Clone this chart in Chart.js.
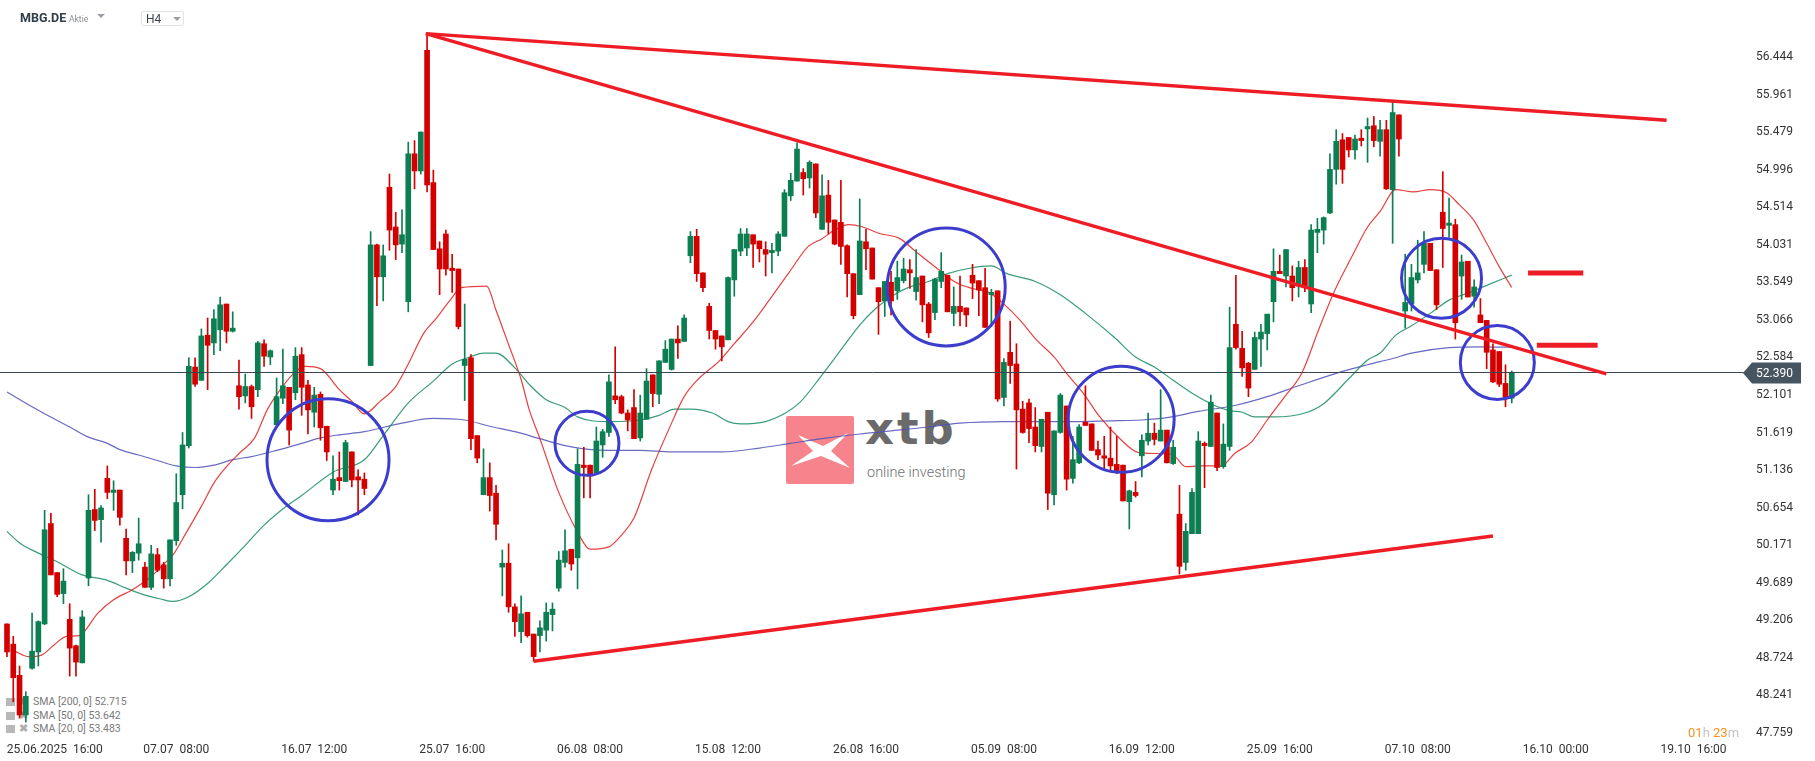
<!DOCTYPE html>
<html>
<head>
<meta charset="utf-8">
<script src="https://cdn.jsdelivr.net/npm/chart.js@4.4.1/dist/chart.umd.min.js"></script>
<style>
  html, body { margin: 0; padding: 0; background: #fff; overflow: hidden; }
  #wrap { position: relative; width: 1815px; height: 761px; font-family: Roboto, sans-serif; }
  #c { position: absolute; left: 0; top: 0; }
  .head { position: absolute; left: 20px; top: 8px; height: 20px; }
  .sym { position: absolute; left: 0; top: 2px; font: bold 12.5px Roboto, sans-serif; color: #2f3d48; }
  .kind { position: absolute; left: 49px; top: 6px; font: 8.5px Roboto, sans-serif; color: #8a8f94; }
  .tri { position: absolute; width: 0; height: 0; border-left: 4px solid transparent; border-right: 4px solid transparent; border-top: 4px solid #9aa0a6; }
  .tf { position: absolute; left: 121px; top: 3px; width: 43px; height: 15px; border: 1px solid #dfe3e6; border-radius: 2px; box-sizing: border-box; }
  .tf span { position: absolute; left: 4px; top: 0px; font: 12px Roboto, sans-serif; color: #3a444c; }
  .legend { position: absolute; left: 6px; top: 695px; font: 10.5px Roboto, sans-serif; color: #7a7a7a; }
  .legend div { height: 13.5px; line-height: 13.5px; white-space: nowrap; }
  .legend .ic { display: inline-block; width: 9px; height: 8px; background: #b8b8b8; margin-right: 4px; vertical-align: -1px; }
  .legend .x { display: inline-block; width: 10px; color: #b0b0b0; font-weight: bold; margin-right: 4px; }
  .timer { position: absolute; left: 1688px; top: 725px; font: 13px Roboto, sans-serif; }
  .timer .o { color: #f7941d; }
  .timer .g { color: #c4c4c4; }
  .wm { position: absolute; left: 786px; top: 416px; }
  .wm .logo { position: absolute; left: 0; top: 0; width: 68px; height: 68px; background: #f7848c; border-radius: 2px; }
  .wm .xtb { position: absolute; left: 79px; top: -14px; font: bold 45px "DejaVu Sans", sans-serif; color: #6a6a6a; letter-spacing: 3px; }
  .wm .sub { position: absolute; left: 81px; top: 48px; font: 300 14.5px Roboto, sans-serif; color: #6f6f6f; white-space: nowrap; }
</style>
</head>
<body>
<div id="wrap">
  <div class="wm">
    <div class="logo">
      <svg width="68" height="68" viewBox="0 0 68 68">
        <path d="M12 19 L37 30 L62 17 L45 35 L64 52 L35 40 L5 50 L27 35 Z" fill="#fff"/>
      </svg>
    </div>
    <div class="xtb">xtb</div>
    <div class="sub">online investing</div>
  </div>
  <div class="legend">
    <div><span class="ic"></span><span class="x">&#10006;</span>SMA [200, 0] 52.715</div>
    <div><span class="ic"></span><span class="x">&#10006;</span>SMA [50, 0] 53.642</div>
    <div><span class="ic"></span><span class="x">&#10006;</span>SMA [20, 0] 53.483</div>
  </div>
  <canvas id="c" width="1815" height="761"></canvas>
  <div class="head">
    <div class="sym">MBG.DE</div>
    <div class="kind">Aktie</div>
    <div class="tri" style="left:77px;top:6px"></div>
    <div class="tf"><span>H4</span><div class="tri" style="left:31px;top:5px"></div></div>
  </div>
  <div class="timer"><span class="o">01</span><span class="g">h </span><span class="o">23</span><span class="g">m</span></div>
</div>
<script>
// MBG.DE, H4 candles (one per 4h bar, index 0 = 24.06 08:00)
const opens = [49.16,48.90,48.50,47.99,48.59,48.80,49.16,50.45,49.82,49.55,
  49.22,48.88,48.66,49.75,50.63,50.50,51.03,50.85,50.88,50.26,
  49.97,50.07,49.89,49.63,50.05,49.92,49.74,50.23,50.82,51.45,
  52.46,52.29,52.87,52.77,52.94,53.27,52.92,52.22,52.09,52.21,
  52.17,52.76,52.59,51.72,52.06,52.20,52.13,52.62,52.23,51.88,
  52.11,51.70,50.88,51.04,50.99,51.37,51.05,51.02,52.48,54.03,
  53.62,54.77,54.26,54.04,53.30,55.20,54.98,56.53,54.83,53.98,
  54.17,53.73,53.72,52.48,52.58,51.58,50.82,51.04,50.84,49.89,
  49.94,49.38,49.06,49.31,49.03,49.01,49.08,49.28,49.62,49.95,
  50.12,50.01,51.20,51.20,51.10,51.46,51.62,52.09,52.08,51.87,
  51.94,51.55,51.79,52.36,52.11,52.52,52.43,52.82,52.79,53.89,
  54.14,53.67,53.24,52.93,52.86,52.81,53.58,53.95,53.99,54.16,
  54.08,53.97,53.93,53.95,54.14,54.66,54.85,54.96,54.89,55.07,
  54.23,54.67,54.35,54.32,54.02,53.66,53.39,54.07,53.99,53.48,
  53.31,53.55,53.44,53.57,53.71,53.43,53.63,53.27,53.16,53.56,
  53.64,53.15,53.24,53.22,53.64,53.57,53.48,53.39,53.44,52.07,
  52.65,52.50,51.92,52.00,51.69,51.44,51.88,50.82,51.62,51.96,
  51.03,51.23,51.75,51.73,51.40,51.32,51.29,51.21,51.20,50.73,
  50.85,51.32,51.51,51.61,51.51,51.65,51.22,50.57,49.95,50.32,
  50.32,51.48,51.44,51.87,51.18,51.44,53.01,52.70,52.51,52.43,
  52.82,52.89,53.30,53.69,53.63,53.63,53.50,53.74,53.27,54.19,
  54.22,54.44,55.00,55.38,55.41,55.25,55.40,55.52,55.56,55.36,
  55.51,54.74,55.70,53.18,53.27,53.58,53.78,54.05,53.71,54.45,
  54.28,54.29,53.63,53.82,53.37,53.13,53.06,52.68,52.66,52.25,
  52.06];
const highs = [49.16,49.00,48.62,48.29,49.30,49.20,50.62,50.58,49.82,49.87,
  49.42,48.89,49.33,50.82,50.89,50.68,51.19,51.00,50.88,50.38,
  50.09,50.52,49.95,50.17,50.13,49.95,50.24,51.09,51.62,52.58,
  52.58,52.95,53.09,53.20,53.36,53.27,53.17,52.55,52.37,52.23,
  52.79,52.81,52.68,52.32,52.69,52.20,52.71,52.71,52.29,52.20,
  52.14,51.70,51.32,51.37,51.52,51.37,51.14,51.10,54.20,54.04,
  54.03,54.94,54.45,54.48,55.35,55.37,55.48,56.76,54.99,54.07,
  54.22,53.91,53.72,53.27,52.62,51.58,51.41,51.23,50.94,50.11,
  50.19,49.42,49.52,49.31,49.03,49.20,49.43,49.43,50.09,50.37,
  50.12,51.41,51.43,51.20,51.69,51.66,52.36,52.72,52.10,51.91,
  52.17,52.10,52.44,52.36,52.54,52.80,52.82,52.99,53.13,54.20,
  54.23,53.67,53.28,52.93,52.86,53.62,53.97,54.24,54.24,54.16,
  54.08,54.07,54.05,54.20,54.74,54.95,55.34,55.01,55.11,55.07,
  54.93,54.86,54.35,54.86,54.03,53.66,54.62,54.23,53.99,53.48,
  53.56,53.69,53.82,53.86,53.84,53.97,53.63,53.29,53.60,53.93,
  53.64,53.49,53.63,53.22,53.78,53.57,53.73,53.46,53.44,52.57,
  53.05,52.76,52.02,52.05,51.94,51.79,51.88,51.64,52.12,51.96,
  51.57,51.72,52.22,51.73,51.51,51.57,51.69,51.57,51.20,50.88,
  50.99,51.59,51.87,51.74,52.17,51.65,51.52,50.94,50.45,50.90,
  51.63,51.50,52.10,51.87,51.73,53.23,53.64,52.92,52.52,52.91,
  53.01,53.14,53.98,53.90,53.97,53.76,53.82,53.84,54.29,54.37,
  54.39,55.20,55.51,55.46,55.41,55.44,55.51,55.66,55.68,55.63,
  55.63,55.88,55.70,53.91,53.78,54.09,54.20,54.05,53.71,54.97,
  54.63,54.36,53.90,53.82,53.58,53.34,53.06,52.76,52.66,52.49,
  52.41];
const lows = [48.74,48.16,47.95,47.90,48.58,48.62,49.15,49.79,49.51,49.42,
  48.49,48.49,48.66,49.65,50.36,50.21,50.77,50.62,50.43,49.79,
  49.82,49.98,49.63,49.60,49.83,49.62,49.65,50.17,50.64,51.42,
  52.21,52.29,52.17,52.62,52.67,52.77,52.91,51.92,52.00,51.80,
  52.08,52.47,52.49,51.72,51.99,51.46,52.04,51.84,51.60,51.69,
  51.52,51.26,50.82,50.88,50.99,50.92,50.56,50.82,52.48,53.25,
  53.31,53.96,53.84,53.93,53.17,54.75,54.94,54.71,53.97,53.39,
  53.64,53.42,52.95,52.03,51.40,51.23,50.82,50.61,50.24,49.52,
  49.31,49.00,48.92,48.99,48.68,48.80,48.94,49.07,49.58,49.89,
  49.85,49.61,50.78,50.78,51.10,51.30,51.57,51.99,51.86,51.64,
  51.54,51.51,51.79,51.95,51.99,52.52,52.42,52.57,52.79,53.80,
  53.56,53.43,52.82,52.69,52.54,52.81,53.37,53.89,53.89,53.74,
  53.81,53.63,53.67,53.89,54.14,54.60,54.85,54.67,54.76,54.38,
  54.23,54.17,54.03,53.78,53.36,53.08,53.39,53.71,53.59,52.88,
  53.11,53.13,53.33,53.54,53.47,53.32,53.04,52.84,53.07,53.48,
  53.17,52.99,52.99,52.98,53.34,53.12,52.97,52.98,52.02,51.96,
  52.25,51.15,51.61,51.49,51.37,51.37,50.63,50.69,51.61,50.88,
  50.97,51.22,51.71,51.39,51.27,51.14,51.13,51.09,50.74,50.38,
  50.79,51.05,51.46,51.46,51.51,51.23,51.21,49.80,49.85,50.32,
  50.32,50.91,51.44,51.13,51.16,51.39,52.69,52.34,52.08,52.43,
  52.47,52.68,53.04,53.66,53.49,53.31,53.36,53.43,53.16,53.93,
  54.04,54.43,54.81,54.82,55.16,55.13,55.30,55.09,55.29,55.17,
  54.74,54.05,55.17,52.96,53.18,53.54,53.67,53.70,53.20,53.74,
  54.13,52.82,53.33,53.36,53.23,53.03,52.44,52.26,52.21,51.95,
  52.00];
const closes = [48.80,48.47,47.99,48.23,48.81,49.19,50.37,49.79,49.54,49.71,
  48.85,48.67,49.25,50.62,50.49,50.65,50.85,50.88,50.53,49.97,
  50.08,50.19,49.63,50.06,49.85,49.74,50.24,50.72,51.46,52.47,
  52.24,52.86,52.74,53.08,53.26,52.92,52.96,52.08,52.21,51.95,
  52.77,52.60,52.67,52.08,52.22,51.65,52.60,52.20,51.91,52.10,
  51.68,51.37,51.02,51.00,51.49,51.01,51.01,50.90,54.03,53.62,
  53.89,54.22,54.03,54.16,55.20,54.98,55.48,54.80,53.97,53.72,
  53.72,53.70,52.98,52.56,51.54,51.29,51.04,50.81,50.44,49.94,
  49.38,49.19,49.29,49.01,48.74,49.11,49.31,49.35,49.98,50.10,
  49.93,51.21,51.17,51.06,51.51,51.63,52.27,52.04,51.87,51.78,
  51.54,51.87,52.28,52.12,52.54,52.69,52.82,52.77,53.09,54.14,
  53.66,53.48,52.93,52.82,52.72,53.61,53.97,54.17,54.17,54.04,
  53.98,53.91,53.96,54.17,54.70,54.86,55.26,54.88,55.09,54.44,
  54.66,54.32,54.04,54.01,53.66,53.12,54.08,53.98,53.59,53.30,
  53.56,53.31,53.61,53.72,53.67,53.61,53.26,52.90,53.59,53.69,
  53.17,53.24,53.17,53.13,53.54,53.45,52.97,53.42,52.05,52.52,
  52.48,51.91,51.62,51.67,51.45,51.79,50.84,51.64,52.10,51.02,
  51.27,51.69,51.71,51.39,51.33,51.29,51.19,51.13,50.74,50.87,
  50.81,51.52,51.61,51.53,51.65,51.23,51.43,49.90,50.35,50.85,
  51.51,51.45,52.01,51.17,51.47,52.71,52.71,52.45,52.19,52.84,
  52.91,53.14,53.69,53.66,53.97,53.48,53.74,53.48,54.22,54.23,
  54.38,55.00,55.36,55.00,55.25,55.39,55.37,55.55,55.37,55.51,
  54.75,55.73,55.39,53.29,53.61,53.67,54.05,53.70,53.26,54.24,
  54.31,53.03,53.81,53.36,53.49,53.03,52.65,52.27,52.24,52.07,
  52.39];

// moving averages: [bar index, value]
const sma20 = [[1,48.82],[3.5,48.74],[5.5,48.76],[7.5,48.89],[9.5,49.00],[11.5,49.01],[14.5,49.30],[17,49.47],
  [20,49.60],[23,49.77],[25,49.93],[26.5,50.05],[28.5,50.32],[31,50.67],[33,50.97],[35,51.18],[37,51.35],
  [39.5,51.55],[41.5,51.91],[43.5,52.16],[45.5,52.36],[47.5,52.47],[50,52.44],[53,52.17],[55,52.02],[57,51.86],
  [59.5,52.02],[62,52.21],[64,52.50],[66.5,52.90],[68.5,53.09],[70.5,53.30],[72.5,53.48],[76.5,53.50],[78,53.19],
  [80,52.75],[82,52.30],[83.3,51.91],[85,51.54],[88,50.85],[91,50.34],[93,50.12],[96,50.15],[98,50.30],[100,50.52],
  [102.8,51.14],[105.5,51.65],[108,52.08],[110.3,52.31],[113.5,52.53],[116,52.76],[118.8,53.02],[121.4,53.30],
  [124.6,53.66],[127.8,54.01],[130,54.11],[132,54.22],[134.2,54.29],[136.5,54.26],[139,54.18],[142.4,54.11],
  [145,53.94],[148.3,53.73],[151.5,53.54],[154,53.47],[156.8,53.41],[159.4,53.24],[161.6,53.06],[164.2,52.81],
  [167,52.59],[169,52.38],[171.7,52.12],[174.3,51.82],[177.5,51.54],[180.5,51.36],[183,51.35],[185.8,51.34],
  [188,51.18],[190.5,51.19],[193.7,51.19],[195.8,51.35],[198.5,51.50],[201,51.78],[203.8,52.08],[206.5,52.38],
  [209.2,52.94],[211.8,53.45],[214.5,53.88],[217,54.26],[219,54.46],[221.5,54.74],[224.3,54.71],[227,54.74],
  [229.6,54.70],[231.7,54.54],[233.9,54.35],[236,54.05],[238,53.75],[240,53.483]];
const sma50 = [[0,50.35],[2,50.20],[5,50.07],[8,49.96],[12,49.79],[16,49.72],[19,49.62],[22,49.53],[24.5,49.48],
  [26.5,49.45],[29,49.51],[32,49.68],[35,49.92],[38,50.17],[41,50.43],[44.5,50.67],[47,50.81],[52,51.11],
  [57,51.27],[60,51.58],[64,52.00],[68,52.28],[71,52.50],[73.5,52.58],[76,52.64],[78,52.64],[81,52.45],
  [83.5,52.22],[86,52.04],[89,51.94],[91,51.82],[96,51.76],[101,51.78],[104,51.84],[106.5,51.92],[109,51.92],
  [112.5,51.87],[115,51.76],[117,51.73],[121,51.76],[123.5,51.84],[126.5,52.01],[130,52.36],[133,52.68],
  [136,53.00],[138.5,53.21],[141.5,53.39],[144,53.49],[147,53.56],[150,53.66],[153.5,53.73],[157,53.76],
  [159.5,53.66],[164,53.56],[168,53.39],[172,53.15],[176.5,52.85],[180,52.59],[183,52.46],[186,52.29],
  [189.5,52.10],[192.5,51.97],[195,51.90],[197,51.88],[199,51.82],[202,51.82],[207,51.87],[210,51.99],
  [214,52.31],[217,52.55],[219,52.64],[221.5,52.87],[224,52.99],[227,53.15],[230,53.32],[233,53.41],
  [236,53.51],[240,53.642]];
const sma200 = [[0,52.14],[4,51.95],[6,51.86],[10,51.69],[13,51.56],[16,51.48],[18,51.40],[21,51.33],[24,51.26],
  [27,51.19],[30,51.17],[33,51.20],[36,51.27],[39,51.31],[43,51.39],[47,51.48],[50,51.55],[53,51.59],[57,51.63],
  [63,51.74],[68,51.80],[73,51.78],[77,51.70],[81,51.63],[85,51.54],[89,51.45],[92,51.41],[96,51.39],[101,51.39],
  [106,51.37],[114,51.37],[120,51.42],[125,51.48],[130,51.54],[136,51.60],[141,51.64],[147,51.69],[152,51.74],
  [159,51.76],[170,51.76],[176,51.77],[181,51.78],[185,51.81],[190,51.89],[196,51.97],[201,52.08],[206,52.22],
  [212,52.38],[217,52.49],[221,52.57],[224,52.64],[230,52.71],[235,52.72],[240,52.715]];

// drawn objects: [startIndex, startPrice, endIndex, endPrice]
const trendLines = [[66.8,56.744,264.7,55.63],[66.8,56.744,255.1,52.372],[84,48.68,237,50.29]];
const levelLines = [[242.6,53.67,251.4,53.67],[244,52.74,253.7,52.74]];
// circles: [index, price, radius px]
const circles = [[51.2,51.27,61],[92.5,51.48,32],[149.8,53.49,59],[177.7,51.79,53],[228.8,53.60,40],[237.7,52.52,37]];

const xTickIdx = [5,27,49,71,93,115,137,159,181,203,225,247,269];
const xTickText = ['25.06.2025 16:00','07.07 08:00','16.07 12:00','25.07 16:00','06.08 08:00','15.08 12:00',
  '26.08 16:00','05.09 08:00','16.09 12:00','25.09 16:00','07.10 08:00','16.10 00:00','19.10 16:00'];
const yTicks = [56.444,55.961,55.479,54.996,54.514,54.031,53.549,53.066,52.584,52.101,51.619,51.136,50.654,
  50.171,49.689,49.206,48.724,48.241,47.759];

const UP = '#0b7f52', DOWN = '#d40000';
const X_MIN = -1.116, X_MAX = 277.2, Y_MIN = 47.669, Y_MAX = 57.176;
const lastClose = closes[closes.length - 1];

Chart.defaults.font.family = 'Roboto';

const idx = opens.map((_, i) => i);
const colors = idx.map(i => closes[i] >= opens[i] ? UP : DOWN);

const lineSet = (pts, color, width, order) => ({
  type: 'line', data: pts.map(p => ({ x: p[0], y: p[1] })), borderColor: color, borderWidth: width,
  pointRadius: 0, cubicInterpolationMode: 'monotone', fill: false, order
});

const priceTag = {
  id: 'priceTag',
  afterDraw(chart) {
    const { ctx, chartArea, scales } = chart;
    const y = Math.round(scales.y.getPixelForValue(lastClose));
    const x0 = chartArea.right - 2;
    ctx.save();
    ctx.fillStyle = '#46555f';
    ctx.beginPath();
    ctx.moveTo(x0, y);
    ctx.lineTo(x0 + 9, y - 10.5);
    ctx.lineTo(x0 + 58, y - 10.5);
    ctx.lineTo(x0 + 58, y + 10.5);
    ctx.lineTo(x0 + 9, y + 10.5);
    ctx.closePath();
    ctx.fill();
    ctx.fillStyle = '#fff';
    ctx.font = '12px Roboto';
    ctx.textBaseline = 'middle';
    ctx.fillText(lastClose.toFixed(3), x0 + 13, y + 1);
    ctx.restore();
  }
};

new Chart(document.getElementById('c'), {
  type: 'bar',
  data: {
    datasets: [
      ...trendLines.map(t => ({ type: 'line', data: [{ x: t[0], y: t[1] }, { x: t[2], y: t[3] }],
        borderColor: '#ee1d25', borderWidth: 3.5, pointRadius: 0, order: 0 })),
      ...levelLines.map(t => ({ type: 'line', data: [{ x: t[0], y: t[1] }, { x: t[2], y: t[3] }],
        borderColor: '#ee1d25', borderWidth: 5, pointRadius: 0, order: 0 })),
      { type: 'bubble', data: circles.map(c => ({ x: c[0], y: c[1], r: c[2] })),
        backgroundColor: 'rgba(0,0,0,0)', borderColor: '#3c3dcd', borderWidth: 3, order: 0 },
      { type: 'line', data: [{ x: X_MIN, y: lastClose }, { x: X_MAX, y: lastClose }],
        borderColor: '#3b4650', borderWidth: 1, pointRadius: 0, order: 1 },
      { data: idx.map(i => ({ x: i, y: [opens[i], closes[i]] })), backgroundColor: colors,
        barThickness: 5, minBarLength: 1, grouped: false, order: 2 },
      { data: idx.map(i => ({ x: i, y: [lows[i], highs[i]] })), backgroundColor: colors,
        barThickness: 1, grouped: false, order: 3 },
      lineSet(sma20, 'rgba(226,30,30,0.85)', 1.2, 4),
      lineSet(sma50, 'rgba(22,140,95,0.85)', 1.2, 4),
      lineSet(sma200, 'rgba(80,80,185,0.85)', 1.2, 4)
    ]
  },
  options: {
    responsive: false,
    animation: false,
    devicePixelRatio: 1,
    events: [],
    layout: { padding: 0, autoPadding: false },
    plugins: { legend: { display: false }, tooltip: { enabled: false } },
    scales: {
      x: {
        type: 'linear', min: X_MIN, max: X_MAX, offset: false,
        grid: { display: false, drawTicks: false }, border: { display: false },
        ticks: {
          autoSkip: false, maxRotation: 0, color: '#333', padding: 3, font: { size: 12 },
          callback: v => {
            const k = xTickIdx.indexOf(v);
            if (k < 0) return '';
            const t = xTickText[k].replace(' ', '  ');
            return k === 0 ? '           ' + t : t;
          }
        },
        afterBuildTicks: s => { s.ticks = xTickIdx.map(v => ({ value: v })); },
        afterFit: s => { s.height = 21; s.paddingLeft = 0; s.paddingRight = 0; }
      },
      y: {
        position: 'right', min: Y_MIN, max: Y_MAX,
        grid: { display: false, drawTicks: false }, border: { display: false },
        ticks: { color: '#333', padding: 11, font: { size: 12 }, callback: v => Number(v).toFixed(3) },
        afterBuildTicks: s => { s.ticks = yTicks.map(v => ({ value: v })); },
        afterFit: s => { s.width = 70; s.paddingTop = 0; s.paddingBottom = 0; }
      }
    }
  },
  plugins: [priceTag]
});
</script>
</body>
</html>
